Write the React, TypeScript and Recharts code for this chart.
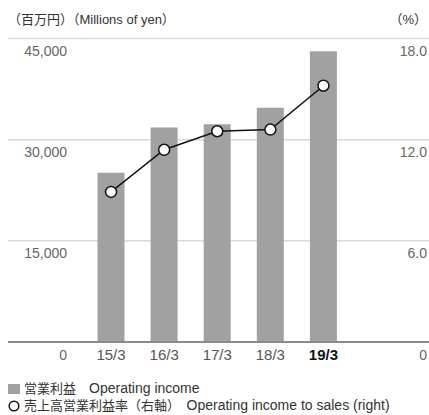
import { Bar, CartesianGrid, ComposedChart, Line, XAxis, YAxis } from "recharts";

// 営業利益と売上高営業利益率の推移

const years = ["15/3", "16/3", "17/3", "18/3", "19/3"];
const operatingIncome = [25100, 31800, 32300, 34750, 43100];
const incomeRatio = [8.9, 11.4, 12.5, 12.6, 15.2];
const leftTicks = [0, 15000, 30000, 45000];
const rightTicks = [0, 6, 12, 18];

const FONT = '"Liberation Sans", "Noto Sans CJK JP", sans-serif';
const BAR = "#a0a1a0";

const data = years.map((y, i) => ({
  year: y,
  income: operatingIncome[i],
  ratio: incomeRatio[i],
}));

function LeftTick({ y, payload }: any) {
  return (
    <text x={59} y={y + 12.5} textAnchor="end" dominantBaseline="central" fontSize={14} fill="#666" fontFamily={FONT}>
      {payload.value.toLocaleString("en-US")}
    </text>
  );
}

function RightTick({ y, payload }: any) {
  const v = payload.value === 0 ? "0" : payload.value.toFixed(1);
  return (
    <text x={419} y={y + 12.5} textAnchor="end" dominantBaseline="central" fontSize={14} fill="#666" fontFamily={FONT}>
      {v}
    </text>
  );
}

function YearTick({ x, y, payload }: any) {
  const last = payload.value === years[years.length - 1];
  return (
    <text
      x={x}
      y={y + 4}
      textAnchor="middle"
      dominantBaseline="central"
      fontSize={15}
      fill={last ? "#111" : "#555"}
      fontWeight={last ? 700 : 400}
      fontFamily={FONT}
    >
      {payload.value}
    </text>
  );
}

export default function App() {
  return (
    <div style={{ padding: "8px 0 0 8px", width: 421, overflow: "visible" }}>
      <style>{"body{margin:0}"}</style>
      <div style={{ position: "relative", width: 421, height: 407, fontFamily: FONT, color: "#333" }}>
        <div style={{ position: "absolute", left: 0, top: 4, fontSize: 13, lineHeight: "16px" }}>
          （百万円）（Millions of yen）
        </div>
        <div style={{ position: "absolute", right: 2, top: 4, fontSize: 13, lineHeight: "16px" }}>（%）</div>
        <div style={{ position: "absolute", left: 0, top: 0 }}>
          <ComposedChart width={421} height={360} data={data} margin={{ top: 30.5, right: -1, left: -1, bottom: 0 }}>
            <CartesianGrid vertical={false} stroke="#dadada" strokeWidth={1.5} yAxisId="left" />
            <XAxis
              dataKey="year"
              height={26}
              padding={{ left: 76.5, right: 79 }}
              tickLine={false}
              axisLine={{ stroke: "#8a8a8a", strokeWidth: 2 }}
              tick={<YearTick />}
              interval={0}
            />
            <YAxis
              yAxisId="left"
              domain={[0, 45000]}
              ticks={leftTicks}
              width={1}
              axisLine={false}
              tickLine={false}
              tick={<LeftTick />}
            />
            <YAxis
              yAxisId="right"
              orientation="right"
              domain={[0, 18]}
              ticks={rightTicks}
              width={1}
              axisLine={false}
              tickLine={false}
              tick={<RightTick />}
            />
            <Bar yAxisId="left" dataKey="income" fill={BAR} barSize={27} isAnimationActive={false} />
            <Line
              yAxisId="right"
              dataKey="ratio"
              stroke="#111"
              strokeWidth={1.5}
              dot={{ r: 5.5, fill: "#fff", stroke: "#111", strokeWidth: 1.5 }}
              isAnimationActive={false}
            />
          </ComposedChart>
        </div>
        <div style={{ position: "absolute", left: 0, top: 372, fontSize: 13, lineHeight: "17px", whiteSpace: "nowrap" }}>
          <div style={{ display: "flex", alignItems: "center" }}>
            <span style={{ display: "inline-block", width: 12, height: 10, background: BAR, marginRight: 4 }} />
            <span>営業利益　<span style={{ fontSize: 14 }}>Operating income</span></span>
          </div>
          <div style={{ display: "flex", alignItems: "center" }}>
            <svg width={13} height={12} style={{ marginRight: 3 }}>
              <circle cx={6} cy={6} r={4.8} fill="#fff" stroke="#111" strokeWidth={1.5} />
            </svg>
            <span>
              売上高営業利益率（右軸）　<span style={{ fontSize: 14 }}>Operating income to sales (right)</span>
            </span>
          </div>
        </div>
      </div>
    </div>
  );
}
